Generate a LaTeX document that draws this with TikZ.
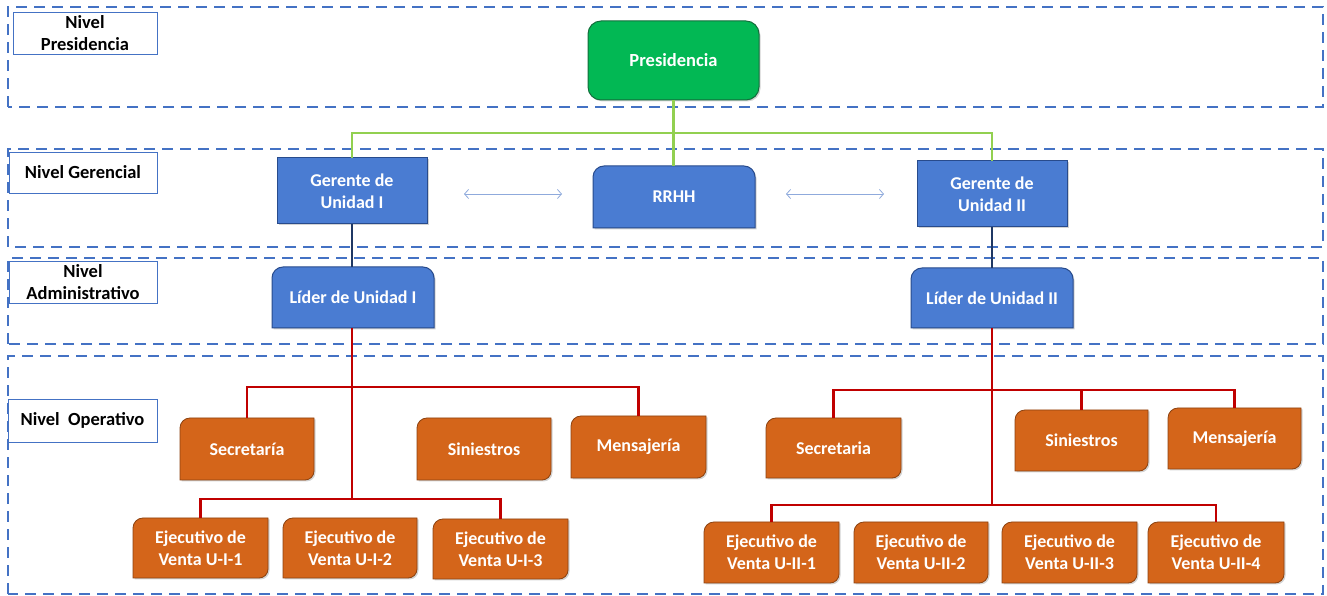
\documentclass[tikz,border=0pt]{standalone}
\usepackage{fontspec}
\setmainfont{Carlito}
\usetikzlibrary{calc,arrows.meta,shadows}
\pgfdeclarelayer{bg}
\pgfsetlayers{bg,main}
\definecolor{dashblue}{RGB}{68,114,196}
\definecolor{pgreen}{RGB}{2,184,84}
\definecolor{pgreenD}{RGB}{20,110,60}
\definecolor{pblue}{RGB}{74,124,210}
\definecolor{pblueD}{RGB}{40,75,140}
\definecolor{porange}{RGB}{212,101,26}
\definecolor{porangeD}{RGB}{140,66,16}
\definecolor{lgreen}{RGB}{146,208,80}
\definecolor{navy}{RGB}{31,56,100}
\definecolor{dred}{RGB}{192,0,0}
\definecolor{arrblue}{RGB}{143,170,220}
\begin{document}
\begin{tikzpicture}[x=1pt,y=1pt,
  lvl/.style={draw=dashblue, line width=2.2pt, dash pattern=on 11pt off 7pt},
  lbl/.style={draw=dashblue, line width=0.8pt, fill=white, text=black,
    font=\fontsize{18.5}{22}\selectfont\bfseries, align=center, inner sep=0pt, outer sep=0pt},
  box/.style={text=white, font=\fontsize{18}{22}\selectfont\bfseries, align=center,
    inner sep=0pt, outer sep=0pt},
  obox/.style={box, minimum width=135pt, minimum height=61pt},
  shad/.style={drop shadow={shadow xshift=1.5pt, shadow yshift=-1.5pt, opacity=0.35}},
  greenfill/.style={fill=pgreen, draw=pgreenD, line width=1pt, shad},
  bluefill/.style={fill=pblue, draw=pblueD, line width=1pt, shad},
  orangefill/.style={fill=porange, draw=porangeD, line width=0.8pt, shad},
  greenline/.style={draw=lgreen, line width=2.4pt},
  navyline/.style={draw=navy, line width=2.2pt},
  redline/.style={draw=dred, line width=2.4pt},
  arr/.style={draw=arrblue, line width=0.8pt,
    {Straight Barb[length=4pt,width=9pt]}-{Straight Barb[length=4pt,width=9pt]}}
]
\useasboundingbox (0,0) rectangle (1327,596);

% level labels
\node[lbl, minimum width=144pt, minimum height=42pt] (lp) at (85,563) {Nivel\\Presidencia};
\node[lbl, minimum width=148pt, minimum height=41pt] (lg) at (83,423.5) {Nivel Gerencial};
\node[lbl, minimum width=148pt, minimum height=42pt] (la) at (83,314) {Nivel\\Administrativo};
\node[lbl, minimum width=149pt, minimum height=43pt] (lo) at (82.5,175.5) {Nivel~ Operativo};

% boxes
\node[box, minimum width=171pt, minimum height=79pt, font=\fontsize{18.5}{22}\selectfont\bfseries] (pres) at (673.5,535.5) {Presidencia};
\node[box, minimum width=150pt, minimum height=66pt] (ger1) at (352,405) {Gerente de\\Unidad I};
\node[box, minimum width=162pt, minimum height=62pt] (rrhh) at (674,399) {RRHH};
\node[box, minimum width=150pt, minimum height=66pt] (ger2) at (992,402) {Gerente de\\Unidad II};
\node[box, minimum width=162pt, minimum height=61pt] (lid1) at (353,298.5) {Líder de Unidad I};
\node[box, minimum width=162pt, minimum height=60pt] (lid2) at (992,298) {Líder de Unidad II};

\node[obox, minimum width=134pt, minimum height=62pt] (sec1) at (247,147) {Secretaría};
\node[obox, minimum width=134pt, minimum height=62pt] (sin1) at (484,147) {Siniestros};
\node[obox, minimum height=62pt] (men1) at (638.5,149) {Mensajería};
\node[obox, minimum height=60pt] (e11) at (200.5,48) {Ejecutivo de\\Venta U-I-1};
\node[obox, minimum width=134pt, minimum height=60pt] (e12) at (350,48) {Ejecutivo de\\Venta U-I-2};
\node[obox, minimum height=60pt] (e13) at (500.5,47) {Ejecutivo de\\Venta U-I-3};

\node[obox, minimum height=60pt] (sec2) at (833.5,148) {Secretaria};
\node[obox, minimum width=133pt] (sin2) at (1081.5,155.5) {Siniestros};
\node[obox, minimum width=133pt] (men2) at (1234.5,157.5) {Mensajería};
\node[obox] (e21) at (771.5,43.5) {Ejecutivo de\\Venta U-II-1};
\node[obox, minimum width=134pt] (e22) at (921,43.5) {Ejecutivo de\\Venta U-II-2};
\node[obox] (e23) at (1069.5,43.5) {Ejecutivo de\\Venta U-II-3};
\node[obox, minimum width=136pt] (e24) at (1216,43.5) {Ejecutivo de\\Venta U-II-4};

\begin{pgfonlayer}{bg}
  % level frames
  \draw[lvl] (8,489) rectangle (1323,589);
  \draw[lvl] (8,349) rectangle (1323,447);
  \draw[lvl] (8,252) rectangle (1323,338);
  \draw[lvl] (8,2) rectangle (1323,240);
  % shapes
  \path[greenfill, rounded corners=13pt] (pres.south west) rectangle (pres.north east);
  \foreach \n in {ger1,ger2}
    \path[bluefill] (\n.south west) rectangle (\n.north east);
  \foreach \n in {rrhh,lid1,lid2}
    \path[bluefill] (\n.south west) -- ($(\n.north west)+(0,-11)$)
      arc[start angle=180,end angle=90,radius=11pt] -- ($(\n.north east)+(-11,0)$)
      arc[start angle=90,end angle=0,radius=11pt] -- (\n.south east) -- cycle;
  \foreach \n in {sec1,sin1,men1,e11,e12,e13,sec2,sin2,men2,e21,e22,e23,e24}
    \path[orangefill] (\n.south west) -- ($(\n.north west)+(0,-10)$)
      arc[start angle=180,end angle=90,radius=10pt] -- (\n.north east)
      -- ($(\n.south east)+(0,9)$)
      arc[start angle=0,end angle=-90,radius=9pt] -- cycle;
\end{pgfonlayer}

% junction coordinates
\coordinate (gbar) at (673.5,463);
\coordinate (ra1) at (352,209);
\coordinate (rb1) at (352,97);
\coordinate (ra2) at (992,206);
\coordinate (rb2) at (992,91);
\coordinate (a1s) at (464,402);
\coordinate (a1e) at (562,402);
\coordinate (a2s) at (786,402);
\coordinate (a2e) at (884,402);

% connectors
\draw[greenline] (pres.south) -- (pres.south |- rrhh.north);
\draw[greenline] (ger1.north) |- (gbar) -| (ger2.north);
\draw[navyline] (ger1.south) -- (ger1.south |- lid1.north);
\draw[navyline] (ger2.south) -- (ger2.south |- lid2.north);

\draw[redline] (lid1.south -| ra1) -- (rb1);
\draw[redline] (sec1.north) |- (ra1) -| (men1.north);
\draw[redline] (e11.north) |- (rb1) -| (e13.north);

\draw[redline] (lid2.south -| ra2) -- (rb2);
\draw[redline] (sec2.north) |- (ra2) -| (men2.north);
\draw[redline] (sin2.north) -- (sin2.north |- ra2);
\draw[redline] (e21.north) |- (rb2) -| (e24.north);

\draw[arr] (a1s) -- (a1e);
\draw[arr] (a2s) -- (a2e);
\end{tikzpicture}
\end{document}
